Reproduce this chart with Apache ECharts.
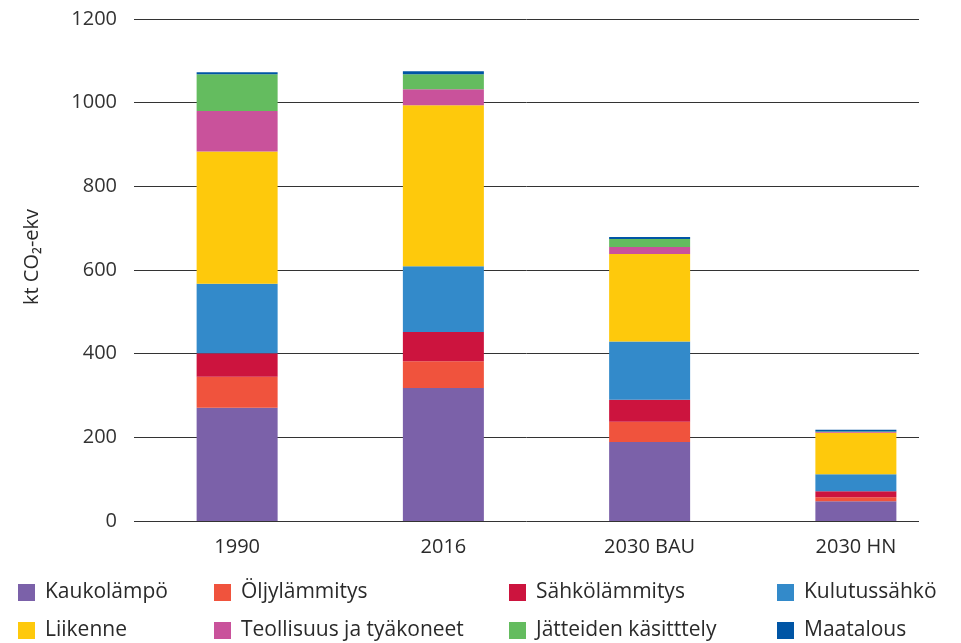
<!DOCTYPE html>
<html>
<head>
<meta charset="utf-8">
<script src="https://cdn.jsdelivr.net/npm/echarts@6/dist/echarts.min.js"></script>
<style>
  html, body { margin: 0; padding: 0; background: #fff; }
  #chart { width: 961px; height: 643px; }
</style>
</head>
<body>
<div id="chart"></div>
<script>
const categories = ['1990', '2016', '2030 BAU', '2030 HN'];

const seriesNames = ['Kaukolämpö', 'Öljylämmitys', 'Sähkölämmitys', 'Kulutussähkö',
  'Liikenne', 'Teollisuus ja tyäkoneet', 'Jätteiden käsitttely', 'Maatalous'];

const kaukolampo = [271, 318, 189, 47];
const oljylammitys = [74, 64, 48, 10];
const sahkolammitys = [56, 70, 53, 14];
const kulutussahko = [166, 157, 139, 41];
const liikenne = [316, 385, 209, 99];
const teollisuus = [97, 38, 17, 2];
const jatteet = [88, 36, 19, 1];
const maatalous = [5, 7, 5, 4];

const yTicks = [0, 200, 400, 600, 800, 1000, 1200];

const colors = ['#7B61A9', '#F0533D', '#CC143E', '#338ACA', '#FEC90C', '#C9529B', '#64BC5F', '#0055A5'];
const values = [kaukolampo, oljylammitys, sahkolammitys, kulutussahko, liikenne, teollisuus, jatteet, maatalous];

const font = 'Open Sans';
const chart = echarts.init(document.getElementById('chart'));

const series = seriesNames.map((name, i) => ({
  name,
  type: 'bar',
  stack: 'total',
  xAxisIndex: 1,
  yAxisIndex: 1,
  barWidth: 81,
  itemStyle: { color: colors[i] },
  data: values[i],
}));

// one legend per item: 4 columns x 2 rows
const colLeft = [18, 214, 509, 777];
const rowTop = [582, 620];
const legends = seriesNames.map((name, i) => ({
  left: colLeft[i % 4],
  top: rowTop[Math.floor(i / 4)],
  padding: 0,
  itemWidth: 17,
  itemHeight: 17,
  icon: 'rect',
  selectedMode: false,
  textStyle: { fontFamily: font, fontSize: 21, color: '#2a2a2a', padding: [0, 0, 0, 5] },
  data: [name],
}));

const option = {
  animation: false,
  legend: legends,
  grid: [
    { left: 134, right: 42, top: 19, bottom: 122 },
    { left: 134, right: 2, top: 19, bottom: 122 },
  ],
  xAxis: [
    { gridIndex: 0, type: 'category', data: categories, show: false },
    {
      gridIndex: 1,
      type: 'category',
      data: categories,
      axisLine: { show: false },
      axisTick: { show: false },
      axisLabel: { fontFamily: font, fontSize: 20, color: '#2a2a2a', margin: 16 },
    },
  ],
  yAxis: [
    {
      gridIndex: 0,
      type: 'value',
      min: yTicks[0],
      max: yTicks[yTicks.length - 1],
      interval: 200,
      name: 'kt CO₂-ekv',
      nameLocation: 'middle',
      nameRotate: 90,
      nameGap: 92,
      nameTextStyle: { fontFamily: font, fontSize: 20, color: '#2a2a2a', padding: [0, 0, 0, 26] },
      axisLine: { show: false },
      axisTick: { show: false },
      axisLabel: { fontFamily: font, fontSize: 20, color: '#333', margin: 17, formatter: v => String(v) },
      splitLine: { lineStyle: { color: '#333', width: 1 } },
    },
    {
      gridIndex: 1,
      type: 'value',
      min: yTicks[0],
      max: yTicks[yTicks.length - 1],
      show: false,
      splitLine: { show: false },
    },
  ],
  series,
};

chart.setOption(option);
</script>
</body>
</html>
